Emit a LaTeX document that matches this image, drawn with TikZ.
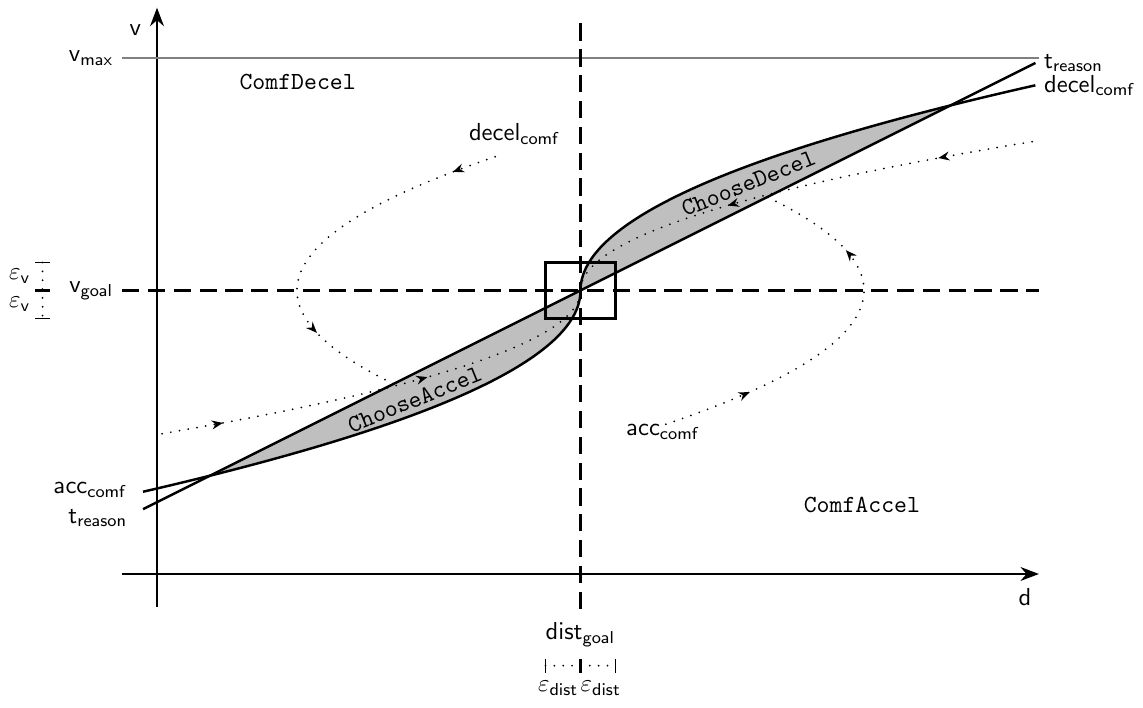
\documentclass[tikz,border=0pt]{standalone}
\usepackage{amsmath,amssymb}
\usepackage{tikz}
\usetikzlibrary{arrows.meta,decorations.markings}

\begin{document}
\begin{tikzpicture}[>=Stealth,
 axe/.style={line width=1pt, ->},
 seuil/.style={line width=1pt, dash pattern=on 7pt off 3.5pt},
 courbe/.style={line width=1pt},
 traj/.style={line width=0.8pt, dash pattern=on 0pt off 3.6pt, line cap=round},
 fleches/.style 2 args={postaction={decorate, decoration={markings,
   mark=at position #1 with {\arrow{Stealth[length=4.5pt,width=3.6pt]}},
   mark=at position #2 with {\arrow{Stealth[length=4.5pt,width=3.6pt]}}}}},
 lbl/.style={font=\sffamily},
 mode/.style={font=\ttfamily}]
\useasboundingbox (-2.243,-1.914) rectangle (14.086,8.2);
% zone de choix entre les deux courbes
\fill[gray!50] plot[domain=-2.3:2.3, samples=121] ({6.05+\x*abs(\x)},{4.05+1.15*\x}) -- cycle;
% axes
\draw[axe] (0,-0.47) -- (0,8.09);
\draw[axe] (-0.5,0) -- (12.6,0);
\node[lbl] (v) at (-0.31,7.77) {v};
\node[lbl] (d) at (12.4,-0.33) {d};
% vitesse max et cible
\draw[gray, semithick] (-0.5,7.37) -- (12.6,7.37);
\node[lbl, anchor=east] (vmax) at (-0.5,7.37) {$\mathsf{v}_{\mathsf{max}}$};
\draw[seuil] (-0.5,4.05) -- (12.6,4.05);
\draw[seuil] (6.05,-0.5) -- (6.05,7.9);
\node[lbl, anchor=east] (vgoal) at (-0.5,4.05) {$\mathsf{v}_{\mathsf{goal}}$};
\node[lbl] (distgoal) at (6.05,-0.87) {$\mathsf{dist}_{\mathsf{goal}}$};
\draw[line width=1pt] (5.55,3.65) rectangle (6.55,4.45);
% tolerances
\draw[thick] (-1.74,4.45) -- (-1.53,4.45);
\draw[line width=1.6pt] (-1.74,4.05) -- (-1.53,4.05);
\draw[thick] (-1.74,3.65) -- (-1.53,3.65);
\draw[traj] (-1.635,4.45) -- (-1.635,3.65);
\node (epsv1) at (-1.96,4.25) {$\varepsilon_{\mathsf{v}}$};
\node (epsv2) at (-1.96,3.85) {$\varepsilon_{\mathsf{v}}$};
\draw[thick] (5.55,-1.21) -- (5.55,-1.41);
\draw[line width=1.6pt] (6.05,-1.21) -- (6.05,-1.41);
\draw[thick] (6.55,-1.21) -- (6.55,-1.41);
\draw[traj] (5.55,-1.31) -- (6.55,-1.31);
\node[inner sep=0pt] (epsd1) at (5.73,-1.63) {$\varepsilon_{\mathsf{dist}}$};
\node[inner sep=0pt] (epsd2) at (6.34,-1.63) {$\varepsilon_{\mathsf{dist}}$};
% courbes de confort et temps de reaction
\draw[courbe] (-0.2,0.925) -- (12.55,7.3);
\draw[courbe] plot[domain=-2.5:2.55, samples=151] ({6.05+\x*abs(\x)},{4.05+1.15*\x});
\node[lbl, anchor=east] (acc) at (-0.3,1.2) {$\mathsf{acc}_{\mathsf{comf}}$};
\node[lbl, anchor=east] (treasonL) at (-0.3,0.8) {$\mathsf{t}_{\mathsf{reason}}$};
\node[lbl, anchor=west] (treasonR) at (12.55,7.3) {$\mathsf{t}_{\mathsf{reason}}$};
\node[lbl, anchor=west] (decel) at (12.55,6.98) {$\mathsf{decel}_{\mathsf{comf}}$};
% trajectoires
\draw[traj, fleches={0.136}{0.597}] plot[domain=-2.445:0, samples=80] ({6.05-\x*\x},{4.05+0.837*\x});
\draw[traj, fleches={0.195}{0.637}] plot[domain=2.54:0, samples=80] ({6.05+\x*\x},{4.05+0.837*\x});
\draw[traj, fleches={0.115}{0.763}] plot[domain=1.91:-1.334, samples=80] ({2.0+0.776*\x*\x},{4.05+\x});
\draw[traj, fleches={0.23}{0.756}] plot[domain=-1.91:1.334, samples=80] ({10.1-0.776*\x*\x},{4.05+\x});
\node[lbl] (decelm) at (5.11,6.29) {$\mathsf{decel}_{\mathsf{comf}}$};
\node[lbl] (accm) at (7.23,2.03) {$\mathsf{acc}_{\mathsf{comf}}$};
% modes
\node[mode] (cd) at (2.01,7.03) {ComfDecel};
\node[mode] (ca) at (10.07,0.99) {ComfAccel};
\node[mode, rotate=22] (cha) at (3.68,2.49) {ChooseAccel};
\node[mode, rotate=22] (chd) at (8.45,5.58) {ChooseDecel};
\end{tikzpicture}
\end{document}
